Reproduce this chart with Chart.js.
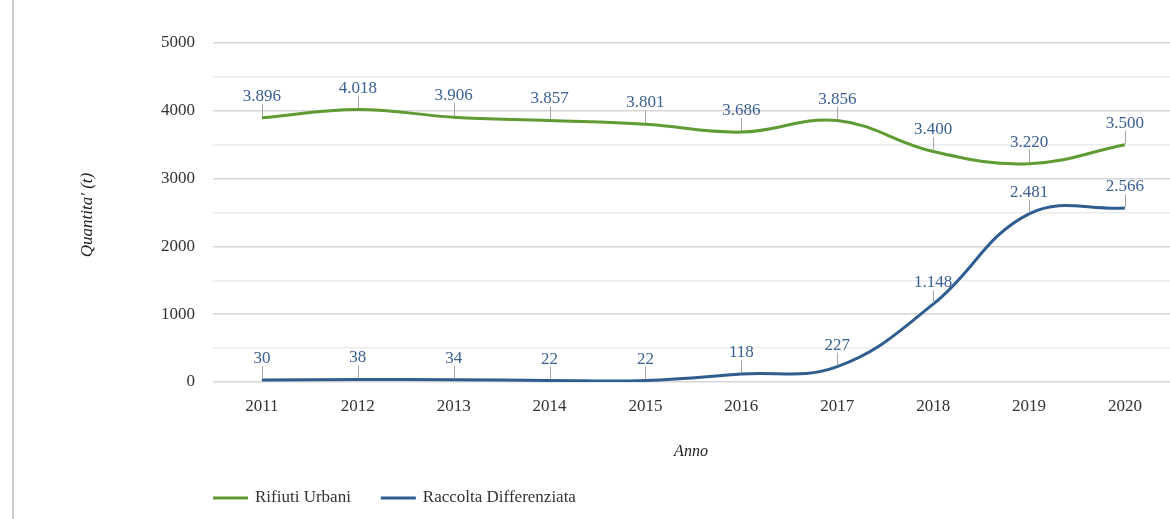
<!DOCTYPE html>
<html>
<head>
<meta charset="utf-8">
<script src="https://cdn.jsdelivr.net/npm/chart.js@4.4.0/dist/chart.umd.min.js"></script>
<style>
  html, body { margin: 0; padding: 0; background: #fff; }
  #chart { display: block; }
</style>
</head>
<body>
<canvas id="chart" width="1170" height="519"></canvas>
<script>
// dati
const anni = [2011, 2012, 2013, 2014, 2015, 2016, 2017, 2018, 2019, 2020];
const rifiutiUrbani = [3896, 4018, 3906, 3857, 3801, 3686, 3856, 3400, 3220, 3500];
const raccoltaDifferenziata = [30, 38, 34, 22, 22, 118, 227, 1148, 2481, 2566];
const yTicks = [0, 1000, 2000, 3000, 4000, 5000];

const serif = '"Liberation Serif", "DejaVu Serif", serif';
const verde = '#5e9b32';
const blu = '#2f5d8f';

// formato italiano: 3896 -> 3.896
const fmt = v => String(v).replace(/\B(?=(\d{3})+(?!\d))/g, '.');

const extras = {
    id: 'extras',
    afterDatasetsDraw(chart) {
        const ctx = chart.ctx;
        ctx.save();
        chart.data.datasets.forEach((ds, i) => {
            const meta = chart.getDatasetMeta(i);
            meta.data.forEach((pt, j) => {
                ctx.strokeStyle = '#a6a6a6';
                ctx.lineWidth = 1;
                ctx.beginPath();
                ctx.moveTo(Math.round(pt.x) + 0.5, pt.y - 1);
                ctx.lineTo(Math.round(pt.x) + 0.5, pt.y - 14);
                ctx.stroke();
                ctx.fillStyle = '#3b6193';
                ctx.font = '17px ' + serif;
                ctx.textAlign = 'center';
                ctx.textBaseline = 'alphabetic';
                ctx.fillText(fmt(ds.data[j].y), pt.x, pt.y - 17);
            });
        });
        ctx.restore();
    },
    afterDraw(chart) {
        const ctx = chart.ctx;
        ctx.save();
        // bordo sinistro
        ctx.strokeStyle = '#cfcfcf';
        ctx.lineWidth = 2;
        ctx.beginPath();
        ctx.moveTo(13, 0);
        ctx.lineTo(13, 519);
        ctx.stroke();

        // titoli assi
        ctx.fillStyle = '#222';
        ctx.font = 'italic 16px ' + serif;
        ctx.textAlign = 'center';
        ctx.textBaseline = 'middle';
        ctx.fillText('Anno', 691, 452);
        ctx.save();
        ctx.translate(88, 215);
        ctx.rotate(-Math.PI / 2);
        ctx.font = 'italic 17px ' + serif;
        ctx.fillText("Quantita' (t)", 0, 0);
        ctx.restore();

        // legenda
        let x = 213;
        const y = 498;
        ctx.font = '17px ' + serif;
        ctx.textAlign = 'left';
        chart.data.datasets.forEach(ds => {
            ctx.strokeStyle = ds.borderColor;
            ctx.lineWidth = 3;
            ctx.beginPath();
            ctx.moveTo(x, y);
            ctx.lineTo(x + 35, y);
            ctx.stroke();
            ctx.fillStyle = '#333';
            ctx.fillText(ds.label, x + 42, y);
            x += 42 + ctx.measureText(ds.label).width + 30;
        });
        ctx.restore();
    }
};

new Chart(document.getElementById('chart'), {
    type: 'line',
    data: {
        datasets: [
            {
                label: 'Rifiuti Urbani',
                data: anni.map((a, i) => ({ x: a, y: rifiutiUrbani[i] })),
                borderColor: verde,
                borderWidth: 3,
                pointRadius: 0,
                tension: 0.4,
                fill: false
            },
            {
                label: 'Raccolta Differenziata',
                data: anni.map((a, i) => ({ x: a, y: raccoltaDifferenziata[i] })),
                borderColor: blu,
                borderWidth: 3,
                pointRadius: 0,
                tension: 0.4,
                fill: false
            }
        ]
    },
    options: {
        responsive: false,
        devicePixelRatio: 1,
        animation: false,
        layout: { padding: { top: 43, right: 0, left: 0, bottom: 0 } },
        plugins: {
            legend: { display: false },
            tooltip: { enabled: false }
        },
        scales: {
            x: {
                type: 'linear',
                min: 2010.49,
                max: 2020.47,
                afterBuildTicks: s => { s.ticks = anni.map(v => ({ value: v })); },
                afterFit: s => { s.height = 137; },
                grid: { display: false },
                border: { display: false },
                ticks: {
                    color: '#333',
                    font: { family: serif, size: 17 },
                    padding: 6,
                    callback: v => String(v)
                }
            },
            y: {
                min: 0,
                max: 5000,
                afterBuildTicks: s => {
                    const t = [];
                    for (let v = 0; v <= 5000; v += 500) t.push({ value: v });
                    s.ticks = t;
                },
                afterFit: s => { s.width = 213; },
                border: { display: false },
                grid: {
                    drawTicks: false,
                    lineWidth: 1.5,
                    color: c => yTicks.includes(c.tick.value) ? '#d6d6d6' : '#ececec'
                },
                ticks: {
                    color: '#333',
                    font: { family: serif, size: 17 },
                    padding: 18,
                    callback: v => yTicks.includes(v) ? String(v) : ''
                }
            }
        }
    },
    plugins: [extras]
});
</script>
</body>
</html>
